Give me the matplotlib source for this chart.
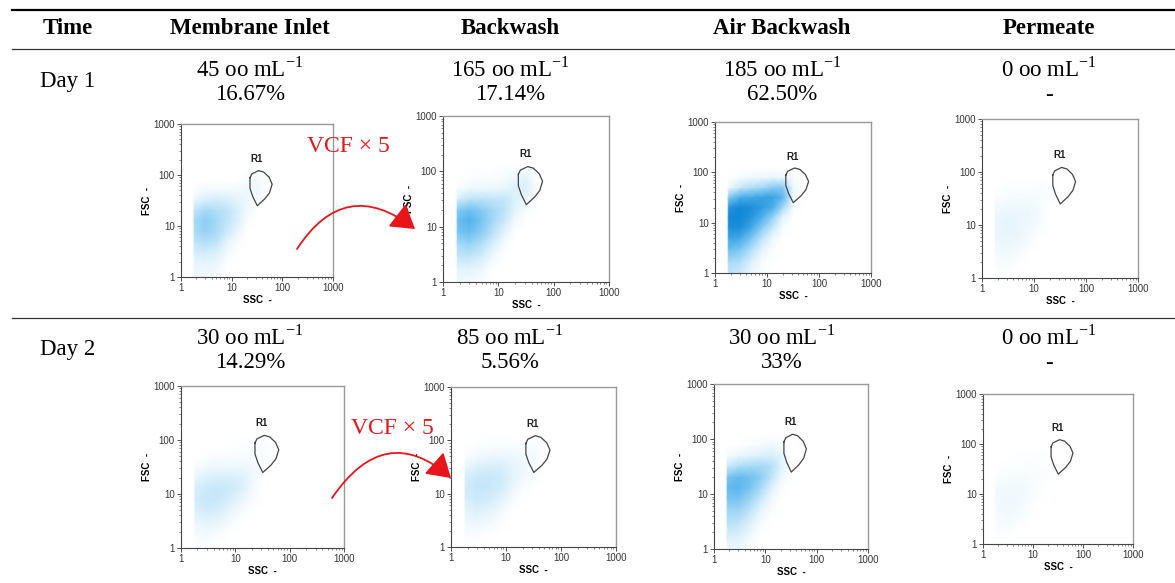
import matplotlib
matplotlib.use('Agg')
import matplotlib.pyplot as plt
from matplotlib.colors import LinearSegmentedColormap
from matplotlib.patches import FancyArrowPatch
from matplotlib.path import Path
from matplotlib.ticker import LogLocator, NullFormatter

plt.rcParams['font.family'] = ['Liberation Serif', 'DejaVu Serif']
plt.rcParams['mathtext.fontset'] = 'custom'
plt.rcParams['mathtext.rm'] = 'Liberation Serif'

# ---- table content ----
headers = ['Time', 'Membrane Inlet', 'Backwash', 'Air Backwash', 'Permeate']
days = ['Day 1', 'Day 2']
counts = [[45, 165, 185, 0], [30, 85, 30, 0]]
percents = [['16.67%', '17.14%', '62.50%', '-'], ['14.29%', '5.56%', '33%', '-']]
vcf_label = 'VCF \u00d7 5'

# ---- cytometry density ----
# nodes along SSC (columns) and FSC (rows, low -> high)
ssc_nodes = [1.7, 1.85, 3, 5, 8, 13, 20, 32, 50]
fsc_nodes = [1, 1.7, 3, 5, 8, 13, 20, 32, 50, 80, 130]

inlet_d1 = [
    [0, .10, .10, .05, 0, 0, 0, 0, 0],
    [0, .12, .12, .10, 0, 0, 0, 0, 0],
    [0, .20, .22, .18, .08, 0, 0, 0, 0],
    [0, .30, .35, .30, .15, .05, 0, 0, 0],
    [0, .38, .45, .38, .25, .12, 0, 0, 0],
    [0, .38, .48, .40, .30, .18, .05, 0, 0],
    [0, .30, .40, .35, .30, .20, .08, 0, 0],
    [0, .12, .20, .22, .20, .15, .10, .05, 0],
    [0, .02, .08, .08, .08, .08, .10, .10, 0],
    [0, 0, 0, 0, 0, 0, .05, .08, 0],
    [0, 0, 0, 0, 0, 0, 0, 0, 0],
]
backwash_d1 = [
    [0, .08, .08, .03, 0, 0, 0, 0, 0],
    [0, .15, .15, .10, 0, 0, 0, 0, 0],
    [0, .28, .30, .22, .08, 0, 0, 0, 0],
    [0, .40, .45, .35, .20, .05, 0, 0, 0],
    [0, .55, .60, .48, .32, .15, 0, 0, 0],
    [0, .60, .68, .55, .40, .25, .08, 0, 0],
    [0, .50, .58, .50, .40, .30, .15, .05, 0],
    [0, .20, .30, .30, .28, .28, .18, .12, 0],
    [0, .03, .08, .10, .10, .12, .18, .20, 0],
    [0, 0, .02, .03, .03, .05, .10, .15, 0],
    [0, 0, 0, 0, 0, .03, 0, 0, 0],
]
air_d1 = [
    [0, .30, .25, .10, .03, 0, 0, 0, 0],
    [0, .40, .35, .18, .05, 0, 0, 0, 0],
    [0, .60, .55, .35, .15, .03, 0, 0, 0],
    [0, .80, .75, .55, .30, .10, 0, 0, 0],
    [0, .95, .95, .75, .50, .25, .05, 0, 0],
    [0, 1.0, 1.0, .90, .70, .45, .15, 0, 0],
    [0, .90, 1.0, .95, .85, .70, .40, .05, 0],
    [0, .50, .70, .75, .80, .80, .65, .10, 0],
    [0, .10, .25, .35, .40, .50, .50, .10, 0],
    [0, 0, .05, .08, .10, .12, .10, .05, 0],
    [0, 0, 0, 0, 0, 0, 0, 0, 0],
]
permeate_d1 = [
    [0, 0, 0, 0, 0, 0, 0, 0, 0],
    [0, .03, .05, 0, 0, 0, 0, 0, 0],
    [0, .06, .08, .05, 0, 0, 0, 0, 0],
    [0, .10, .12, .10, .05, 0, 0, 0, 0],
    [0, .12, .14, .12, .08, .03, 0, 0, 0],
    [0, .12, .14, .12, .10, .05, 0, 0, 0],
    [0, .08, .10, .10, .10, .06, 0, 0, 0],
    [0, .03, .05, .06, .06, .05, .03, 0, 0],
    [0, 0, .02, .03, .03, .04, .02, 0, 0],
    [0, 0, 0, 0, 0, 0, 0, 0, 0],
    [0, 0, 0, 0, 0, 0, 0, 0, 0],
]
inlet_d2 = [
    [0, .02, .03, 0, 0, 0, 0, 0, 0],
    [0, .05, .06, .03, 0, 0, 0, 0, 0],
    [0, .12, .15, .12, .06, 0, 0, 0, 0],
    [0, .18, .22, .20, .14, .06, 0, 0, 0],
    [0, .22, .26, .26, .20, .12, .04, 0, 0],
    [0, .20, .25, .26, .24, .18, .08, 0, 0],
    [0, .12, .18, .20, .20, .18, .10, 0, 0],
    [0, .04, .08, .10, .10, .10, .08, .03, 0],
    [0, 0, .02, .04, .05, .04, .05, .05, 0],
    [0, 0, 0, 0, 0, .02, .02, .04, 0],
    [0, 0, 0, 0, 0, 0, 0, 0, 0],
]
backwash_d2 = [
    [0, 0, 0, 0, 0, 0, 0, 0, 0],
    [0, .03, .03, 0, 0, 0, 0, 0, 0],
    [0, .10, .12, .08, .03, 0, 0, 0, 0],
    [0, .15, .18, .15, .08, 0, 0, 0, 0],
    [0, .20, .24, .22, .15, .06, 0, 0, 0],
    [0, .22, .27, .26, .22, .12, .04, 0, 0],
    [0, .20, .26, .26, .24, .16, .08, .03, 0],
    [0, .12, .18, .20, .20, .15, .10, .06, 0],
    [0, .04, .08, .10, .12, .10, .08, .08, 0],
    [0, 0, .02, .04, .05, .04, .03, .05, 0],
    [0, 0, 0, 0, 0, 0, 0, 0, 0],
]
air_d2 = [
    [0, .10, .10, .03, 0, 0, 0, 0, 0],
    [0, .20, .18, .08, 0, 0, 0, 0, 0],
    [0, .32, .30, .18, .06, 0, 0, 0, 0],
    [0, .42, .42, .30, .14, .03, 0, 0, 0],
    [0, .55, .55, .42, .25, .08, 0, 0, 0],
    [0, .62, .65, .55, .40, .18, .03, 0, 0],
    [0, .55, .62, .58, .48, .30, .10, 0, 0],
    [0, .25, .35, .40, .40, .35, .18, 0, 0],
    [0, .05, .10, .15, .18, .20, .15, 0, 0],
    [0, 0, 0, .03, .05, .08, .05, 0, 0],
    [0, 0, 0, 0, 0, 0, 0, 0, 0],
]
permeate_d2 = [
    [0, 0, 0, 0, 0, 0, 0, 0, 0],
    [0, .02, .03, 0, 0, 0, 0, 0, 0],
    [0, .05, .06, .04, 0, 0, 0, 0, 0],
    [0, .07, .08, .07, .03, 0, 0, 0, 0],
    [0, .08, .09, .08, .05, .02, 0, 0, 0],
    [0, .07, .08, .08, .06, .03, 0, 0, 0],
    [0, .04, .05, .06, .05, .03, .02, 0, 0],
    [0, .01, .02, .03, .03, .03, .02, 0, 0],
    [0, 0, 0, .01, .02, .02, .01, 0, 0],
    [0, 0, 0, 0, 0, 0, 0, 0, 0],
    [0, 0, 0, 0, 0, 0, 0, 0, 0],
]
densities = [[inlet_d1, backwash_d1, air_d1, permeate_d1],
             [inlet_d2, backwash_d2, air_d2, permeate_d2]]

# R1 gate polygon (SSC, FSC)
gate_ssc = [23, 25, 34, 43, 55, 63, 56, 45, 32, 26, 23, 23]
gate_fsc = [88, 105, 122, 114, 90, 66, 45, 34, 25, 38, 55, 88]

# ---- layout (pixels of the 1175 x 583 canvas) ----
W, H = 1175, 583
col_x = [68, 250, 510, 782, 1049]
row_y = [(69, 95, 81), (337, 363, 350)]
panel_px = [
    [(181, 124, 333, 277), (443, 116, 609, 282), (715, 122, 871, 273), (982, 119, 1138, 278)],
    [(181, 386, 344, 548), (451, 387, 616, 547), (714, 384, 868, 549), (983, 394, 1133, 544)],
]

cmap = LinearSegmentedColormap.from_list(
    'fcm', [(0, '#ffffff'), (0.15, '#e4f4fc'), (0.4, '#a4d9f6'),
            (0.7, '#4cb0ec'), (1.0, '#1388d6')])

fig = plt.figure(figsize=(W / 100, H / 100), dpi=100)

for r in range(2):
    for c in range(4):
        x0, y0, x1, y1 = panel_px[r][c]
        ax = fig.add_axes([x0 / W, 1 - y1 / H, (x1 - x0) / W, (y1 - y0) / H])
        ax.set_xscale('log')
        ax.set_yscale('log')
        ax.pcolormesh(ssc_nodes, fsc_nodes, densities[r][c], shading='gouraud',
                      cmap=cmap, vmin=0, vmax=1, zorder=1)
        ax.plot(gate_ssc, gate_fsc, color='#444444', lw=0.9, zorder=3)
        ax.text(31, 205, 'R1', ha='center', va='center', fontsize=7,
                fontweight='bold', family='Liberation Sans', color='#222222')
        ax.set_xlim(1, 1000)
        ax.set_ylim(1, 1000)
        ticks = [1, 10, 100, 1000]
        ax.set_xticks(ticks)
        ax.set_yticks(ticks)
        ax.set_xticklabels([str(t) for t in ticks])
        ax.set_yticklabels([str(t) for t in ticks])
        ax.xaxis.set_minor_locator(LogLocator(base=10, subs=range(2, 10)))
        ax.yaxis.set_minor_locator(LogLocator(base=10, subs=range(2, 10)))
        ax.xaxis.set_minor_formatter(NullFormatter())
        ax.yaxis.set_minor_formatter(NullFormatter())
        ax.tick_params(which='major', labelsize=7, length=3, width=0.6, pad=1.5,
                       colors='#333333')
        ax.tick_params(which='minor', length=1.6, width=0.5, colors='#555555')
        for lab in ax.get_xticklabels() + ax.get_yticklabels():
            lab.set_family('Liberation Sans')
        for side in ['left', 'bottom']:
            ax.spines[side].set_color('#444444')
            ax.spines[side].set_linewidth(0.8)
        for side in ['top', 'right']:
            ax.spines[side].set_color('#999999')
            ax.spines[side].set_linewidth(1.0)
        ax.set_xlabel('SSC  -', fontsize=7, fontweight='bold',
                      family='Liberation Sans', labelpad=1)
        ax.set_ylabel('FSC  -', fontsize=7, fontweight='bold',
                      family='Liberation Sans', labelpad=1)

# overlay in pixel coordinates for the table frame, text and arrows
ov = fig.add_axes([0, 0, 1, 1], zorder=10)
ov.set_xlim(0, W)
ov.set_ylim(H, 0)
ov.axis('off')
ov.patch.set_alpha(0)

ov.plot([12, W], [10, 10], color='black', lw=1.6)
ov.plot([12, W], [49, 49], color='#333333', lw=0.9)
ov.plot([12, W], [318, 318], color='#333333', lw=0.9)

for x, h in zip(col_x, headers):
    ov.text(x, 29, h, ha='center', va='center', fontsize=16.5, fontweight='bold')

for r, day in enumerate(days):
    y_cnt, y_pct, y_day = row_y[r]
    ov.text(col_x[0], y_day, day, ha='center', va='center', fontsize=16.5)
    for c in range(4):
        ov.text(col_x[c + 1], y_cnt, f'{counts[r][c]} oo mL$^{{-1}}$',
                ha='center', va='center', fontsize=16.5)
        ov.text(col_x[c + 1], y_pct, percents[r][c], ha='center', va='center',
                fontsize=16.5)

red = '#e8151b'
arrows = [((297, 249), (345, 175), (415, 229), (348, 147)),
          ((332, 498), (385, 420), (451, 478), (392, 429))]
for p0, ctrl, p1, txt in arrows:
    path = Path([p0, ctrl, p1], [Path.MOVETO, Path.CURVE3, Path.CURVE3])
    arr = FancyArrowPatch(path=path, arrowstyle='-|>,head_length=1.2,head_width=0.75',
                          mutation_scale=12, color=red, lw=1.3)
    ov.add_patch(arr)
    ov.text(txt[0], txt[1], vcf_label, ha='center', va='center', fontsize=17,
            color=red)

fig.savefig('out.png', dpi=100)
